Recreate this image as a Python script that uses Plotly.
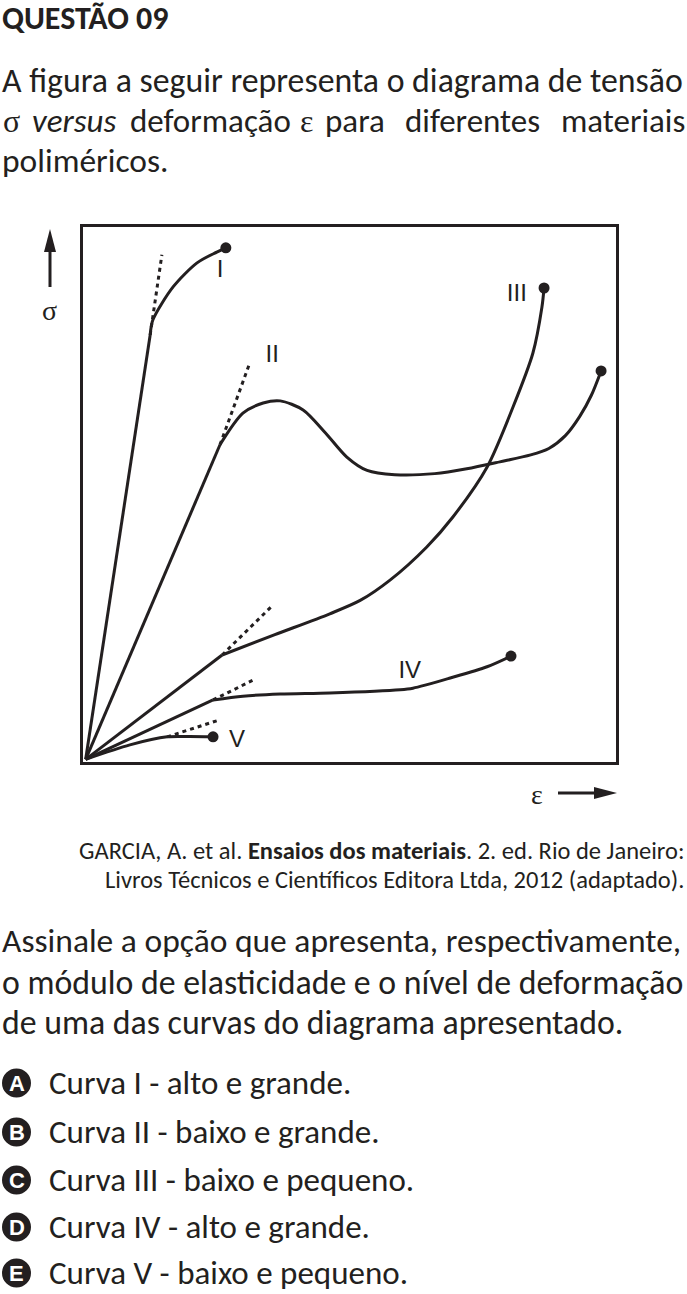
import plotly.graph_objects as go

W, H = 687, 1294
INK = "#231f20"

# ---- data (arbitrary units: strain eps 0..100, stress sigma 0..100) ----
I_lin_x = [0.5, 12.6]
I_lin_y = [0.5, 79.8]
I_x = [12.6, 13.1, 16.9, 21.4, 25.1, 26.8]
I_y = [79.8, 82.6, 88.8, 93.3, 95.3, 96.1]
I_tan_x = [12.6, 14.8]
I_tan_y = [79.8, 94.8]

II_lin_x = [0.5, 25.7]
II_lin_y = [0.5, 59.3]
II_x = [25.7, 30.0, 33.8, 37.0, 41.3, 45.5, 49.5, 53.3, 58.5, 66.0, 72.0, 78.2, 84.0, 87.4, 90.5, 93.2, 95.4, 97.2]
II_y = [59.3, 65.2, 67.1, 67.5, 65.8, 61.5, 57.0, 54.5, 53.7, 53.9, 54.8, 56.1, 57.4, 58.6, 61.0, 64.6, 68.6, 73.1]
II_tan_x = [25.7, 31.3]
II_tan_y = [59.3, 74.6]

III_lin_x = [0.5, 26.1]
III_lin_y = [0.5, 20.0]
III_x = [26.1, 36.0, 46.3, 52.0, 57.6, 64.5, 69.4, 75.8, 80.7, 84.4, 86.1, 86.5]
III_y = [20.0, 23.8, 27.7, 30.2, 34.0, 40.2, 45.8, 55.1, 66.4, 76.4, 85.0, 88.6]
III_tan_x = [26.1, 35.5]
III_tan_y = [20.0, 29.2]

IV_lin_x = [0.5, 24.4]
IV_lin_y = [0.5, 11.6]
IV_x = [24.4, 30.0, 37.0, 46.3, 59.5, 61.9, 68.9, 75.8, 80.3]
IV_y = [11.6, 12.3, 12.7, 12.9, 13.5, 13.8, 15.7, 17.8, 19.8]
IV_tan_x = [24.4, 31.9]
IV_tan_y = [11.6, 15.3]

V_x = [0.5, 8.8, 15.8, 20.0, 24.4]
V_y = [0.5, 3.2, 4.7, 4.75, 4.7]
V_tan_x = [15.8, 25.7]
V_tan_y = [4.7, 7.9]

curve_labels = ["I", "II", "III", "IV", "V"]
label_x = [25.7, 35.5, 81.4, 61.3, 28.9]
label_y = [91.8, 75.9, 87.3, 16.8, 4.0]

end_x = [26.8, 97.2, 86.5, 80.3, 24.4]
end_y = [96.1, 73.1, 88.6, 19.8, 4.7]

options = ["A", "B", "C", "D", "E"]
option_texts = [
    "Curva I - alto e grande.",
    "Curva II - baixo e grande.",
    "Curva III - baixo e pequeno.",
    "Curva IV - alto e grande.",
    "Curva V - baixo e pequeno.",
]

# ---- helpers ----
def px(x):
    return x / W

def py(y):
    return 1 - y / H

fig = go.Figure()

def line(x, y, shape="linear", dash="solid"):
    kw = dict(color=INK, width=3, shape=shape, dash=dash)
    if shape == "spline":
        kw["smoothing"] = 0.8
    fig.add_trace(go.Scatter(x=x, y=y, mode="lines", line=kw,
                             hoverinfo="skip", showlegend=False))

for lx, ly, cx, cy, tx, ty in [
    (I_lin_x, I_lin_y, I_x, I_y, I_tan_x, I_tan_y),
    (II_lin_x, II_lin_y, II_x, II_y, II_tan_x, II_tan_y),
    (III_lin_x, III_lin_y, III_x, III_y, III_tan_x, III_tan_y),
    (IV_lin_x, IV_lin_y, IV_x, IV_y, IV_tan_x, IV_tan_y),
]:
    line(tx, ty, dash="4px,4px")
    line(lx, ly)
    line(cx, cy, shape="spline")

line(V_tan_x, V_tan_y, dash="4px,4px")
line(V_x, V_y, shape="spline")

fig.add_trace(go.Scatter(x=end_x, y=end_y, mode="markers",
                         marker=dict(color=INK, size=11),
                         hoverinfo="skip", showlegend=False))
fig.add_trace(go.Scatter(x=label_x, y=label_y, mode="text", text=curve_labels,
                         textfont=dict(family="Liberation Sans, Arial", size=24, color=INK),
                         hoverinfo="skip", showlegend=False))

x0, x1 = 83, 616
y0, y1 = 227, 762
ax_common = dict(showgrid=False, zeroline=False, showticklabels=False, ticks="",
                 showline=True, mirror=True, linewidth=3, linecolor=INK,
                 range=[0, 100], fixedrange=True)
fig.update_layout(
    width=W, height=H,
    margin=dict(l=0, r=0, t=0, b=0),
    paper_bgcolor="white", plot_bgcolor="white",
    xaxis=dict(domain=[px(x0), px(x1)], **ax_common),
    yaxis=dict(domain=[py(y1), py(y0)], **ax_common),
)

shapes = []
annotations = []

BODY = "Carlito, Lato, sans-serif"
SERIF = "Liberation Serif, DejaVu Serif, serif"

def text(s, x, y, size=33.5, anchor="left", family=BODY, color=INK):
    annotations.append(dict(text=s, x=px(x), y=py(y), xref="paper", yref="paper",
                            xanchor=anchor, yanchor="middle", showarrow=False,
                            font=dict(family=family, size=size, color=color)))

text("<b>QUESTÃO 09</b>", 0, 18, size=32)
text("A figura a seguir representa o diagrama de tensão", 0, 80, size=33.8)
# justified second line, word by word
text("σ", 1, 121, family=SERIF, size=32)
text("<i>versus</i>", 74, 121, anchor="center", size=33)
text("deformação", 211, 121, anchor="center", size=33)
text("ε", 306, 121, anchor="center", family=SERIF, size=32)
text("para", 355, 121, anchor="center", size=33)
text("diferentes", 472, 121, anchor="center", size=33)
text("materiais", 687, 121, anchor="right", size=33)
text("poliméricos.", 0, 160)

# axis arrows and symbols
shapes.append(dict(type="line", xref="paper", yref="paper",
                   x0=px(50), x1=px(50), y0=py(287), y1=py(248),
                   line=dict(color=INK, width=3)))
shapes.append(dict(type="path", xref="paper", yref="paper", fillcolor=INK, line=dict(width=0),
                   path=f"M {px(44)} {py(252)} L {px(56)} {py(252)} L {px(50)} {py(229)} Z"))
text("σ", 50, 311, size=28, anchor="center", family=SERIF)

shapes.append(dict(type="line", xref="paper", yref="paper",
                   x0=px(558), x1=px(598), y0=py(793), y1=py(793),
                   line=dict(color=INK, width=3)))
shapes.append(dict(type="path", xref="paper", yref="paper", fillcolor=INK, line=dict(width=0),
                   path=f"M {px(594)} {py(787)} L {px(594)} {py(799)} L {px(617)} {py(793)} Z"))
text("ε", 537, 794, size=28, anchor="center", family=SERIF)

# citation
text("GARCIA, A. et al. <b>Ensaios dos materiais</b>. 2. ed. Rio de Janeiro:", 686, 851, size=24.5, anchor="right")
text("Livros Técnicos e Científicos Editora Ltda, 2012 (adaptado).", 686, 880, size=24.5, anchor="right")

text("Assinale a opção que apresenta, respectivamente,", 0, 940, size=33.5)
text("o módulo de elasticidade e o nível de deformação", 0, 982, size=33.8)
text("de uma das curvas do diagrama apresentado.", 0, 1023, size=33.8)

opt_y = [1083, 1132, 1180, 1227, 1273]
for letter, t, yy in zip(options, option_texts, opt_y):
    shapes.append(dict(type="circle", xref="paper", yref="paper", fillcolor=INK,
                       line=dict(width=0),
                       x0=px(2), x1=px(31), y0=py(yy - 14.5), y1=py(yy + 14.5)))
    text(f"<b>{letter}</b>", 16.5, yy, size=22, anchor="center",
         family="Liberation Sans, Arial", color="white")
    text(t, 47, yy, size=33)

fig.update_layout(shapes=shapes, annotations=annotations)
fig.write_html("out.html")
